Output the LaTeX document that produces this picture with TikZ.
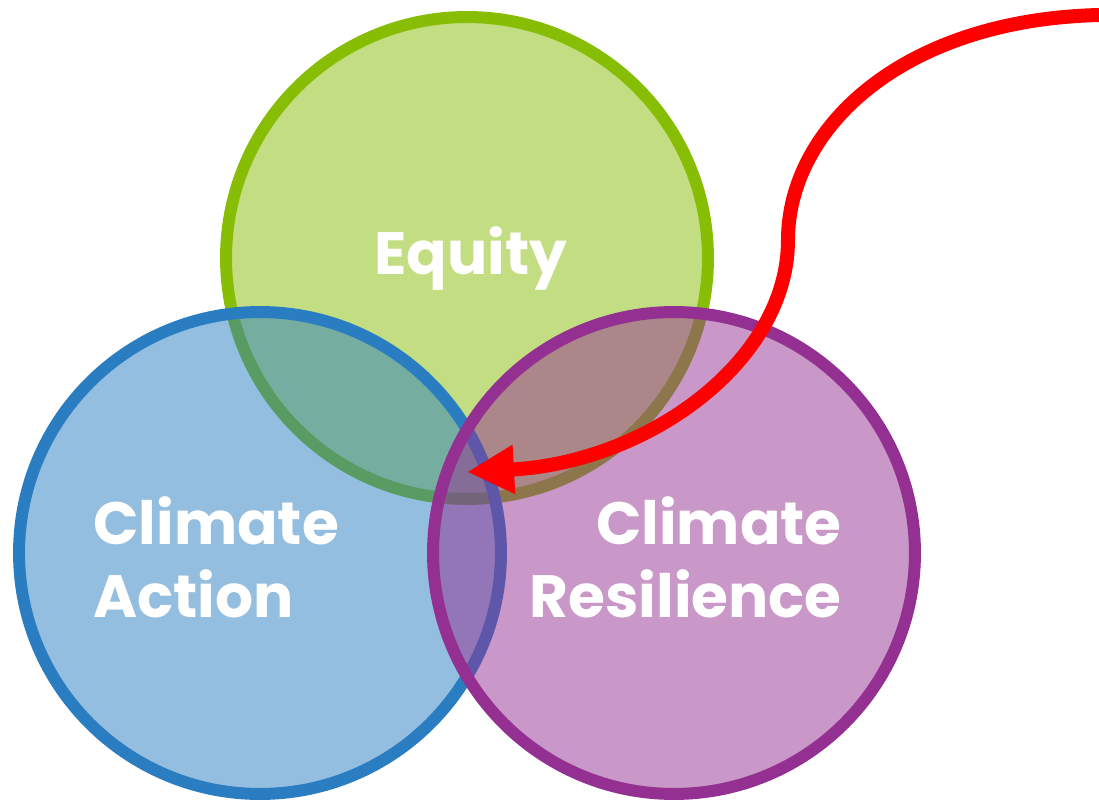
\documentclass[tikz,border=0pt]{standalone}
\usepackage{fontspec}
\setmainfont{Poppins}
\usetikzlibrary{arrows.meta}

\definecolor{equitygreen}{HTML}{87BD05}
\definecolor{actionblue}{HTML}{2A7DC1}
\definecolor{resilpurple}{HTML}{933091}

\begin{document}
\begin{tikzpicture}[x=0.02cm,y=-0.02cm,
	ring/.style={circle,draw=#1,fill=#1,fill opacity=0.5,line width=0.24cm,minimum size=9.64cm,inner sep=0pt},
	venntext/.style={text=white,font=\bfseries\fontsize{34}{41.5}\selectfont,inner sep=0pt}]
		\useasboundingbox (0,0) rectangle (1099,800);

		% draw the three circles
		\node (equity) at (467,258) [ring=equitygreen] {};
		\node (action) at (260,553) [ring=actionblue] {};
		\node (resilience) at (674,553) [ring=resilpurple] {};

		% draw labels
		\node (equitytxt) at (471,275) [venntext,anchor=base] {Equity};
		\node (actiontxt) at (93,557) [venntext,anchor=west,align=left] {Climate\\Action};
		\node (resiltxt) at (842,557) [venntext,anchor=east,align=right] {Climate\\Resilience};

		% draw red arrow into the middle
		\coordinate (arrowstart) at (1099,15);
		\coordinate (overlap) at (467,472);
		\draw[red,line width=0.28cm,-{Triangle[length=0.94cm,width=0.92cm]}]
			(arrowstart) .. controls (900,20) and (788,130) .. (788,240)
			.. controls (788,360) and (650,462) .. (overlap);
	\end{tikzpicture}
\end{document}
